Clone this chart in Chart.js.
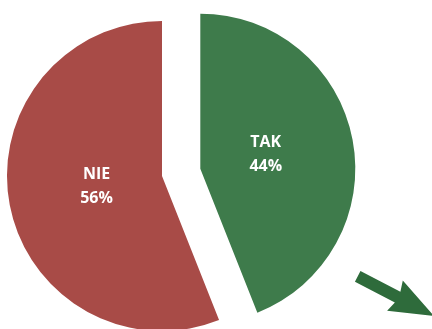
<!DOCTYPE html>
<html>
<head>
<meta charset="utf-8">
<script src="https://cdn.jsdelivr.net/npm/chart.js@4/dist/chart.umd.min.js"></script>
<style>
  html, body { margin: 0; padding: 0; background: #ffffff; }
  #wrap { width: 432px; height: 329px; position: relative; }
</style>
</head>
<body>
<div id="wrap"><canvas id="chart" width="432" height="329"></canvas></div>
<script>
// Answers
const categories = ['TAK', 'NIE'];
const values = [44, 56];
const colors = ['#3e7b4b', '#a84b47'];

// Slices pulled out of the pie, by category
const exploded = ['TAK'];
const EXPLODE_PX = 39;
const LABEL_RATIO = 0.43;

function shiftFor(arc, i) {
  if (!exploded.includes(categories[i])) return { dx: 0, dy: 0 };
  const mid = (arc.startAngle + arc.endAngle) / 2;
  return { dx: Math.cos(mid) * EXPLODE_PX, dy: Math.sin(mid) * EXPLODE_PX };
}

// Draws each arc, moving exploded slices outward along their mid-angle
const explodePlugin = {
  id: 'explode',
  beforeDatasetDraw(chart, args) {
    const ctx = chart.ctx;
    const meta = args.meta;
    meta.data.forEach((arc, i) => {
      const s = shiftFor(arc, i);
      ctx.save();
      ctx.translate(s.dx, s.dy);
      arc.draw(ctx);
      ctx.restore();
    });
    return false;
  },
  afterDatasetsDraw(chart) {
    const ctx = chart.ctx;
    const meta = chart.getDatasetMeta(0);
    const total = values.reduce((a, b) => a + b, 0);
    ctx.save();
    ctx.fillStyle = '#ffffff';
    ctx.font = 'bold 16px "Open Sans", sans-serif';
    ctx.textAlign = 'center';
    ctx.textBaseline = 'middle';
    meta.data.forEach((arc, i) => {
      const s = shiftFor(arc, i);
      const mid = (arc.startAngle + arc.endAngle) / 2;
      const r = arc.outerRadius * LABEL_RATIO;
      const x = arc.x + s.dx + Math.cos(mid) * r;
      const y = arc.y + s.dy + Math.sin(mid) * r - 2;
      const pct = Math.round(values[i] / total * 100) + '%';
      ctx.fillText(categories[i], x, y - 12);
      ctx.fillText(pct, x, y + 12);
    });
    ctx.restore();
  },
  afterDraw(chart) {
    // decorative arrow in the lower right corner
    const ctx = chart.ctx;
    const w = chart.width, h = chart.height;
    ctx.save();
    ctx.fillStyle = '#2e6b3b';
    ctx.translate(w + 2, h - 13);
    ctx.rotate(Math.atan2(39, 75));
    ctx.beginPath();
    ctx.moveTo(-86, -6);
    ctx.lineTo(-41, -6);
    ctx.lineTo(-44, -17);
    ctx.lineTo(0, 0);
    ctx.lineTo(-44, 17);
    ctx.lineTo(-41, 6);
    ctx.lineTo(-86, 6);
    ctx.closePath();
    ctx.fill();
    ctx.restore();
  }
};

new Chart(document.getElementById('chart'), {
  type: 'pie',
  data: {
    labels: categories,
    datasets: [{
      data: values,
      backgroundColor: colors,
      borderWidth: 0
    }]
  },
  options: {
    responsive: false,
    animation: false,
    radius: 155,
    layout: { padding: { left: 0, right: 108, top: 23, bottom: 0 } },
    plugins: {
      legend: { display: false },
      tooltip: { enabled: false },
      title: { display: false }
    }
  },
  plugins: [explodePlugin]
});
</script>
</body>
</html>
